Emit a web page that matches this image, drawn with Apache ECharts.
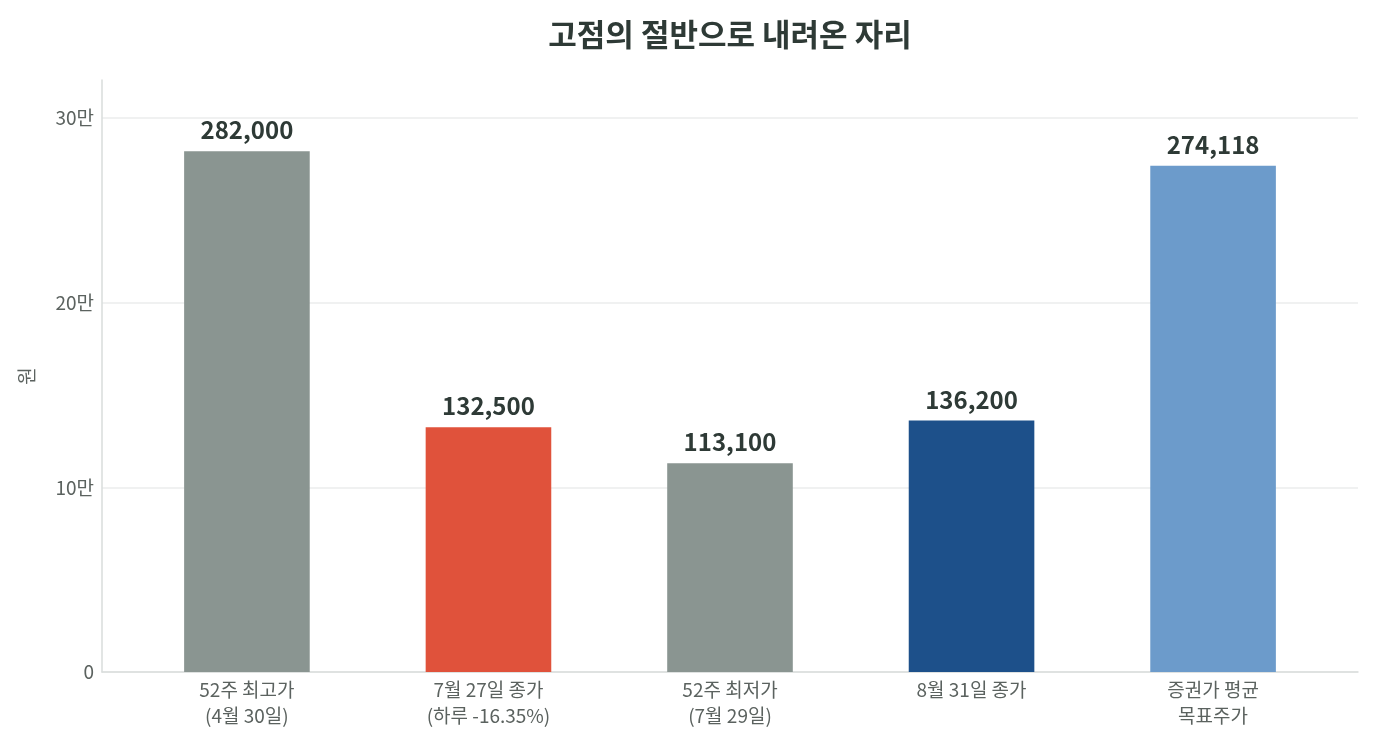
<!DOCTYPE html>
<html>
<head>
<meta charset="utf-8">
<script src="https://cdn.jsdelivr.net/npm/echarts@6/dist/echarts.min.js"></script>
<style>html,body{margin:0;padding:0;background:#fff}#c{width:1380px;height:750px}</style>
</head>
<body>
<div id="c"></div>
<script>
const categories = ['52주 최고가\n(4월 30일)', '7월 27일 종가\n(하루 -16.35%)', '52주 최저가\n(7월 29일)', '8월 31일 종가', '증권가 평균\n목표주가'];
const values = [282000, 132500, 113100, 136200, 274118];
const yTicks = [0, 100000, 200000, 300000];
const barColors = ['#8a9591', '#e0523b', '#8a9591', '#1d508a', '#6c9bcb'];

const FONT = '"Noto Sans CJK KR", "Noto Sans", sans-serif';
const chart = echarts.init(document.getElementById('c'));
const yMax = 320600;
const catW = 1256 / 5.2;
chart.setOption({
  backgroundColor: '#ffffff',
  animation: false,
  textStyle: { fontFamily: FONT },
  title: {
    text: '고점의 절반으로 내려온 자리',
    left: 725, top: 14, textAlign: 'center',
    textStyle: { fontFamily: FONT, fontSize: 31, fontWeight: 'bold', color: '#2e3a36' }
  },
  grid: [
    { left: 102, right: 22, top: 80, bottom: 78 },
    { left: 102 + 0.1 * catW, right: 22 + 0.1 * catW, top: 80, bottom: 78 }
  ],
  xAxis: [
    { type: 'category', gridIndex: 0, data: [''], axisLine: { show: true, lineStyle: { color: '#d9dddb', width: 1.5 } }, axisTick: { show: false }, axisLabel: { show: false }, splitLine: { show: false } },
    { type: 'category', gridIndex: 1, data: categories, axisLine: { show: false }, axisTick: { show: false },
      axisLabel: { color: '#5b625f', fontSize: 19, lineHeight: 26, margin: 5, fontFamily: FONT, interval: 0 } }
  ],
  yAxis: [
    { type: 'value', gridIndex: 0, min: 0, max: yMax, interval: 100000,
      name: '원', nameLocation: 'middle', nameGap: 66, nameRotate: 90,
      nameTextStyle: { color: '#5b625f', fontSize: 19, fontFamily: FONT },
      axisLine: { show: true, lineStyle: { color: '#d9dddb', width: 1.5 } }, axisTick: { show: false },
      axisLabel: { color: '#5b625f', fontSize: 19, margin: 8, fontFamily: FONT, showMaxLabel: false,
        formatter: v => yTicks.indexOf(v) < 0 ? '' : (v === 0 ? '0' : (v / 10000) + '만') },
      splitLine: { show: true, showMaxLine: false, lineStyle: { color: '#ebedec', width: 1.5 } } },
    { type: 'value', gridIndex: 1, min: 0, max: yMax, show: false, splitLine: { show: false } }
  ],
  series: [{
    type: 'bar', xAxisIndex: 1, yAxisIndex: 1,
    barWidth: '52%',
    data: values.map((v, i) => ({ value: v, itemStyle: { color: barColors[i] } })),
    label: { show: true, position: 'top', distance: 9, fontSize: 24, fontWeight: 'bold', color: '#2e3a36', fontFamily: FONT,
      formatter: p => p.value.toLocaleString('en-US') }
  }]
});
</script>
</body>
</html>
